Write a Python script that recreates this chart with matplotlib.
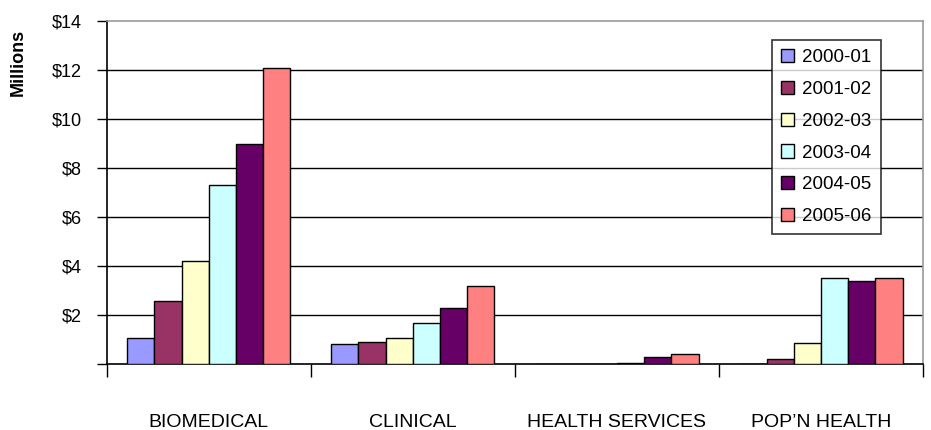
import numpy as np
import matplotlib
matplotlib.use('Agg')
import matplotlib.pyplot as plt

plt.rcParams['font.family'] = ['Liberation Sans', 'DejaVu Sans']

categories = ['BIOMEDICAL', 'CLINICAL', 'HEALTH SERVICES', "POP\u2019N HEALTH"]
years = ['2000-01', '2001-02', '2002-03', '2003-04', '2004-05', '2005-06']

# funding in millions of dollars, one list per year (order follows categories)
funding = {
    '2000-01': [1.05, 0.80, 0.0, 0.0],
    '2001-02': [2.58, 0.88, 0.0, 0.22],
    '2002-03': [4.22, 1.08, 0.0, 0.87],
    '2003-04': [7.30, 1.68, 0.05, 3.50],
    '2004-05': [8.96, 2.30, 0.27, 3.38],
    '2005-06': [12.10, 3.17, 0.42, 3.50],
}
colors = ['#9999FF', '#993366', '#FFFFCC', '#CCFFFF', '#660066', '#FF8080']

yticks = np.arange(0, 15, 2)

fig = plt.figure(figsize=(9.31, 4.30), dpi=100)
ax = fig.add_axes([0.1146, 0.1535, 0.8768, 0.7977])

n = len(years)
width = 0.8 / n
x = np.arange(len(categories))
for j, yr in enumerate(years):
    ax.bar(x + 0.1 + width * (j + 0.5), funding[yr], width=width,
           color=colors[j], edgecolor='black', linewidth=1.0,
           label=yr, zorder=3)

ax.set_xlim(0, len(categories))
ax.set_ylim(0, 14)

# horizontal grid lines
for v in yticks[1:-1]:
    ax.axhline(v, color='black', linewidth=1.0, zorder=1)

ax.set_yticks(yticks)
ax.set_yticklabels([''] + ['\\$%d' % v for v in yticks[1:]])
ax.tick_params(axis='y', direction='out', length=7, width=1.0, pad=11,
               labelsize=13, colors='black')

# category labels in the middle, boundary ticks as minor ticks
ax.set_xticks(x + 0.5)
ax.set_xticklabels(categories, fontsize=14)
ax.tick_params(axis='x', which='major', length=0, pad=36)
ax.set_xticks(np.arange(len(categories) + 1), minor=True)
ax.tick_params(axis='x', which='minor', direction='out', length=9, width=1.0)

for side in ['left', 'bottom']:
    ax.spines[side].set_color('black')
    ax.spines[side].set_linewidth(1.2)
for side in ['top', 'right']:
    ax.spines[side].set_color('#999999')
    ax.spines[side].set_linewidth(1.2)

fig.text(0.020, 0.855, 'Millions', rotation=90, fontsize=13,
         fontweight='bold', ha='center', va='center')

leg = ax.legend(loc='upper left', bbox_to_anchor=(0.815, 0.945),
                borderaxespad=0, fontsize=13.5, frameon=True, fancybox=False,
                handlelength=0.7, handleheight=0.7, handletextpad=0.4,
                labelspacing=0.78, borderpad=0.5)
leg.get_frame().set_edgecolor('black')
leg.get_frame().set_linewidth(1.2)
leg.set_zorder(5)

fig.savefig('out.png', dpi=100)
